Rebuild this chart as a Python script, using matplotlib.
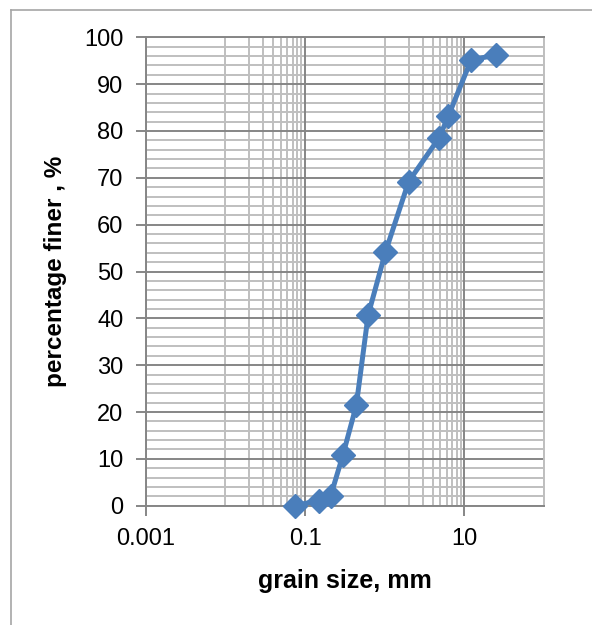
import numpy as np
import matplotlib
matplotlib.use('Agg')
import matplotlib.pyplot as plt
from matplotlib.lines import Line2D

plt.rcParams['font.family'] = ['Liberation Sans', 'DejaVu Sans']

# sieve data
grain_size = [0.074, 0.15, 0.21, 0.30, 0.44, 0.62, 1.02, 2.0, 4.85, 6.3, 12.2, 25.3]
pct_finer = [0.0, 1.1, 2.1, 10.9, 21.4, 40.7, 54.1, 69.2, 78.6, 83.2, 95.2, 96.2]

x_major = [0.001, 0.1, 10]
x_major_labels = ['0.001', '0.1', '10']
x_minor = [k * 0.01 for k in range(1, 10)] + [k * 1.0 for k in range(1, 10)] + [100]

major_col = '#868686'
minor_col = '#bfbfbf'
line_col = '#4a7ebb'

fig = plt.figure(figsize=(5.92, 6.25), dpi=100)
ax = fig.add_axes([0.2461, 0.1909, 0.6728, 0.7494])

ax.set_xscale('log')
ax.set_xlim(0.001, 100)
ax.set_ylim(0, 100)

# gridlines, Excel style
for v in x_minor:
    ax.axvline(v, color=minor_col, lw=1.4, zorder=1)
for v in x_major:
    ax.axvline(v, color=major_col, lw=1.4, zorder=1.5)
for v in np.arange(2, 100, 2):
    if v % 10:
        ax.axhline(v, color=minor_col, lw=1.4, zorder=1)
for v in range(0, 101, 10):
    ax.axhline(v, color=major_col, lw=1.4, zorder=1.5)

ax.plot(grain_size, pct_finer, color=line_col, lw=3.6, marker='D',
        markersize=12, markerfacecolor=line_col, markeredgecolor=line_col,
        zorder=3, clip_on=False)

ax.set_xticks(x_major)
ax.set_xticklabels(x_major_labels)
ax.xaxis.set_minor_locator(matplotlib.ticker.NullLocator())
ax.set_yticks(range(0, 101, 10))

ax.tick_params(axis='both', which='major', direction='out', length=7,
               width=1.4, color=major_col, labelsize=17, pad=9)

for side in ['left', 'bottom', 'top']:
    ax.spines[side].set_color(major_col)
    ax.spines[side].set_linewidth(1.4)
ax.spines['right'].set_color(minor_col)
ax.spines['right'].set_linewidth(1.4)

ax.set_xlabel('grain size, mm', fontsize=18, fontweight='bold', labelpad=14)
ax.set_ylabel('percentage finer , %', fontsize=17.5, fontweight='bold', labelpad=12)

# chart area border (left and top visible)
fig.add_artist(Line2D([10.5 / 592, 10.5 / 592], [0, 1 - 9.5 / 625],
                      transform=fig.transFigure, color='#a6a6a6', lw=1.2))
fig.add_artist(Line2D([10.5 / 592, 1], [1 - 9.5 / 625, 1 - 9.5 / 625],
                      transform=fig.transFigure, color='#a6a6a6', lw=1.2))

fig.savefig('out.png', dpi=100)
